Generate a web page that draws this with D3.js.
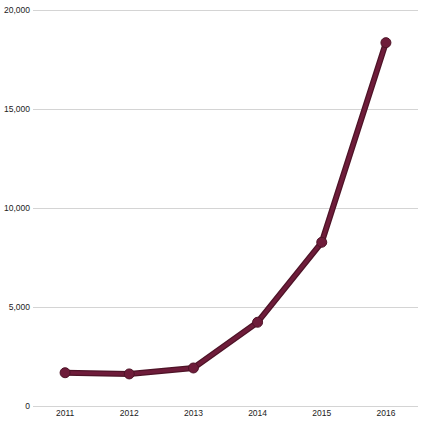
<!DOCTYPE html>
<html lang="en">
<head>
<meta charset="utf-8">
<script src="https://cdnjs.cloudflare.com/ajax/libs/d3/7.8.5/d3.min.js"></script>
<style>
  body { margin: 0; background: #fff; }
  .tick text { font-family: "Liberation Sans", Arial, sans-serif; font-size: 8.5px; fill: #222; }
</style>
</head>
<body>
<div id="chart"></div>
<script>
// data
const years = ["2011", "2012", "2013", "2014", "2015", "2016"];
const values = [1680, 1620, 1920, 4230, 8270, 18350];
const yTicks = [0, 5000, 10000, 15000, 20000];

const w = 422, h = 422;
const margin = {top: 10, right: 4, bottom: 16, left: 33};

const svg = d3.select("#chart").append("svg")
  .attr("width", w)
  .attr("height", h);

const x = d3.scaleBand()
  .domain(years)
  .range([margin.left, w - margin.right]);

const y = d3.scaleLinear()
  .domain([0, 20000])
  .range([h - margin.bottom, margin.top]);

// gridlines + y labels
const yAxis = svg.append("g")
  .attr("transform", "translate(" + margin.left + ",0)")
  .call(d3.axisLeft(y).tickValues(yTicks).tickFormat(d3.format(",")).tickSize(-(w - margin.left - margin.right)).tickPadding(3));
yAxis.select(".domain").remove();
yAxis.selectAll(".tick line").attr("stroke", "#d4d4d4").attr("stroke-width", 1);

// x labels
const xAxis = svg.append("g")
  .attr("transform", "translate(0," + (h - margin.bottom) + ")")
  .call(d3.axisBottom(x).tickSize(0).tickPadding(4));
xAxis.select(".domain").remove();

const pts = years.map((yr, i) => ({year: yr, value: values[i]}));
const cx = d => x(d.year) + x.bandwidth() / 2;

const line = d3.line()
  .x(cx)
  .y(d => y(d.value));

svg.append("path")
  .datum(pts)
  .attr("fill", "none")
  .attr("stroke", "#4e1327")
  .attr("stroke-width", 6)
  .attr("stroke-linejoin", "round")
  .attr("d", line);

svg.append("path")
  .datum(pts)
  .attr("fill", "none")
  .attr("stroke", "#6e1c3a")
  .attr("stroke-width", 3.5)
  .attr("stroke-linejoin", "round")
  .attr("d", line);

svg.selectAll("circle")
  .data(pts)
  .enter()
  .append("circle")
  .attr("cx", cx)
  .attr("cy", d => y(d.value))
  .attr("r", 5)
  .attr("fill", "#6e1c3a")
  .attr("stroke", "#4e1327")
  .attr("stroke-width", 1);
</script>
</body>
</html>
